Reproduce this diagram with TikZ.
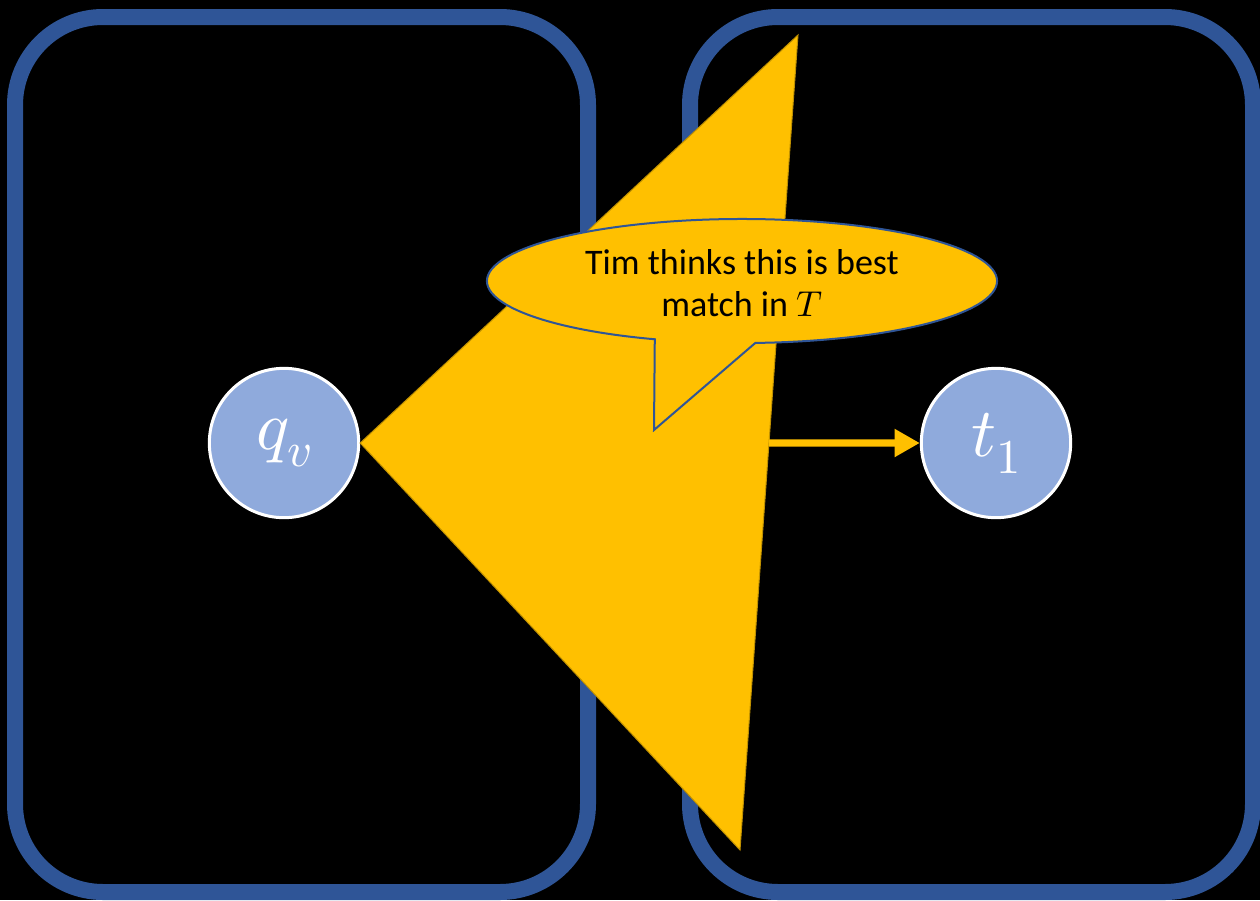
\documentclass[tikz,border=0pt]{standalone}
\usepackage{fontspec}
\usepackage{unicode-math}
\setmainfont{Carlito}
\usetikzlibrary{positioning,calc,arrows.meta}
\definecolor{boxblue}{HTML}{2F5597}
\definecolor{nodeblue}{HTML}{8FAADC}
\definecolor{gold}{HTML}{FFC000}
\definecolor{darkgold}{HTML}{BF9000}

\begin{document}
\begin{tikzpicture}[x=0.75pt,y=-0.75pt]
  \tikzstyle{frame} = [draw=boxblue,line width=12pt,rounded corners=66pt]
  \tikzstyle{vert} = [circle,draw=white,line width=2.25pt,fill=nodeblue,minimum size=112pt,inner sep=0pt,text=white,font=\fontsize{52}{58}\selectfont]
  \fill[black] (0,0) rectangle (1260,900);
  \useasboundingbox (0,0) rectangle (1260,900);
  \clip (0,0) rectangle (1260,900);
  % the two graphs Q and T
  \draw[frame] (15,17) rectangle (588,892);
  \draw[frame] (690,17) rectangle (1253,892);
  \node[vert] (q) at (284,443) {$q_v$};
  \node[vert] (t) at (996,443) {$t_1$};
  % beam out of q_v
  \coordinate (top) at (798,35);
  \coordinate (bot) at (740,850);
  \coordinate (hit) at ($(top)!0.5006!(bot)$);
  \filldraw[fill=gold,draw=darkgold,line width=0.75pt] (q.east) -- (top) -- (bot) -- cycle;
  \draw[gold,line width=5.5pt,-{Triangle[length=19pt,width=20pt]}] (hit) -- (t);
  % speech bubble
  \coordinate (tip) at (654,430);
  \filldraw[fill=gold,draw=boxblue,line width=1.5pt] (tip) -- ($(742,281)+(110:255 and 62)$)
    arc[start angle=110,end angle=447,x radius=255,y radius=62] -- cycle;
  \node[font=\fontsize{27}{31.5}\selectfont,align=center] (note) at (742,283) {Tim thinks this is best\\match in $T$};
\end{tikzpicture}
\end{document}
